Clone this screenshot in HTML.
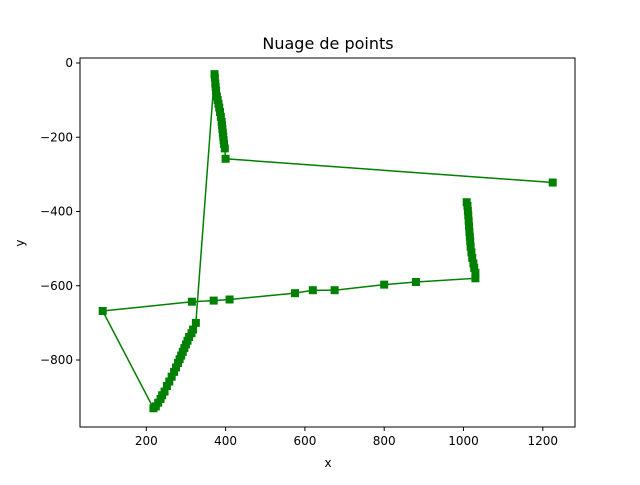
<!DOCTYPE html>
<html><head><meta charset="utf-8"><style>
body{margin:0;background:#fff;}
svg{font-family:"DejaVu Sans","Liberation Sans",sans-serif;}
</style></head><body>
<svg id="c" width="640" height="480"></svg>
<script>
const xs=[1008,1010,1011,1012,1013,1014,1015,1016,1017,1018,1020,1022,1025,1027,1030,1030,
880,800,675,620,575,410,370,315,90,
218,224,230,236,240,246,252,258,264,270,275,280,284,288,292,296,300,304,308,314,318,325,
372,373,374,375,376,378,380,382,384,386,388,390,391,392,393,394,395,396,398,400,
1225];
const ys=[-375,-385,-398,-410,-425,-440,-455,-468,-480,-495,-510,-525,-540,-552,-565,-580,
-590,-597,-612,-612,-620,-637,-640,-643,-668,
-930,-925,-915,-905,-895,-885,-870,-858,-845,-832,-820,-808,-798,-788,-778,-768,-758,-748,-738,-728,-718,-700,
-30,-40,-55,-65,-75,-90,-100,-110,-120,-132,-145,-158,-168,-178,-188,-198,-208,-218,-230,-258,
-322];
const xTicks=[200,400,600,800,1000,1200];
const yTicks=[0,-200,-400,-600,-800];
const L=80,R=575,T=58,B=427;
const X=v=>67+0.3965*v, Y=v=>63-0.37125*v;
const svg=document.getElementById('c');const NS='http://www.w3.org/2000/svg';
function mk(t,a,p){const e=document.createElementNS(NS,t);for(const k in a)e.setAttribute(k,a[k]);(p||svg).appendChild(e);return e;}
const title=mk('text',{x:328,y:49,'text-anchor':'middle','font-size':16});title.textContent='Nuage de points';


let d='';xs.forEach((v,i)=>{d+=(i?'L':'M')+X(v)+' '+Y(ys[i]);});
const line=mk('path',{d:d,fill:'none',stroke:'#008000','stroke-width':1.5});


xs.forEach((v,i)=>{const r=mk('rect',{x:X(v)-4,y:Y(ys[i])-4,width:8,height:8,fill:'#008000'});

});
const frame=mk('rect',{x:L,y:T,width:R-L,height:B-T,fill:'none',stroke:'#000','stroke-width':1});


xTicks.forEach(t=>{mk('line',{x1:X(t),x2:X(t),y1:B,y2:B+4,stroke:'#000'});
const tx=mk('text',{x:X(t),y:B+18,'text-anchor':'middle','font-size':12});tx.textContent=t;

});
yTicks.forEach(t=>{mk('line',{x1:L-4,x2:L,y1:Y(t),y2:Y(t),stroke:'#000'});
const tx=mk('text',{x:L-7,y:Y(t)+4,'text-anchor':'end','font-size':12});tx.textContent=t<0?'\u2212'+(-t):t;

});
const xl=mk('text',{x:328,y:467,'text-anchor':'middle','font-size':12});xl.textContent='x';


const yl=mk('text',{x:24,y:243,'text-anchor':'middle','font-size':12,transform:'rotate(-90 24 243)'});yl.textContent='y';


</script>
</body></html>
